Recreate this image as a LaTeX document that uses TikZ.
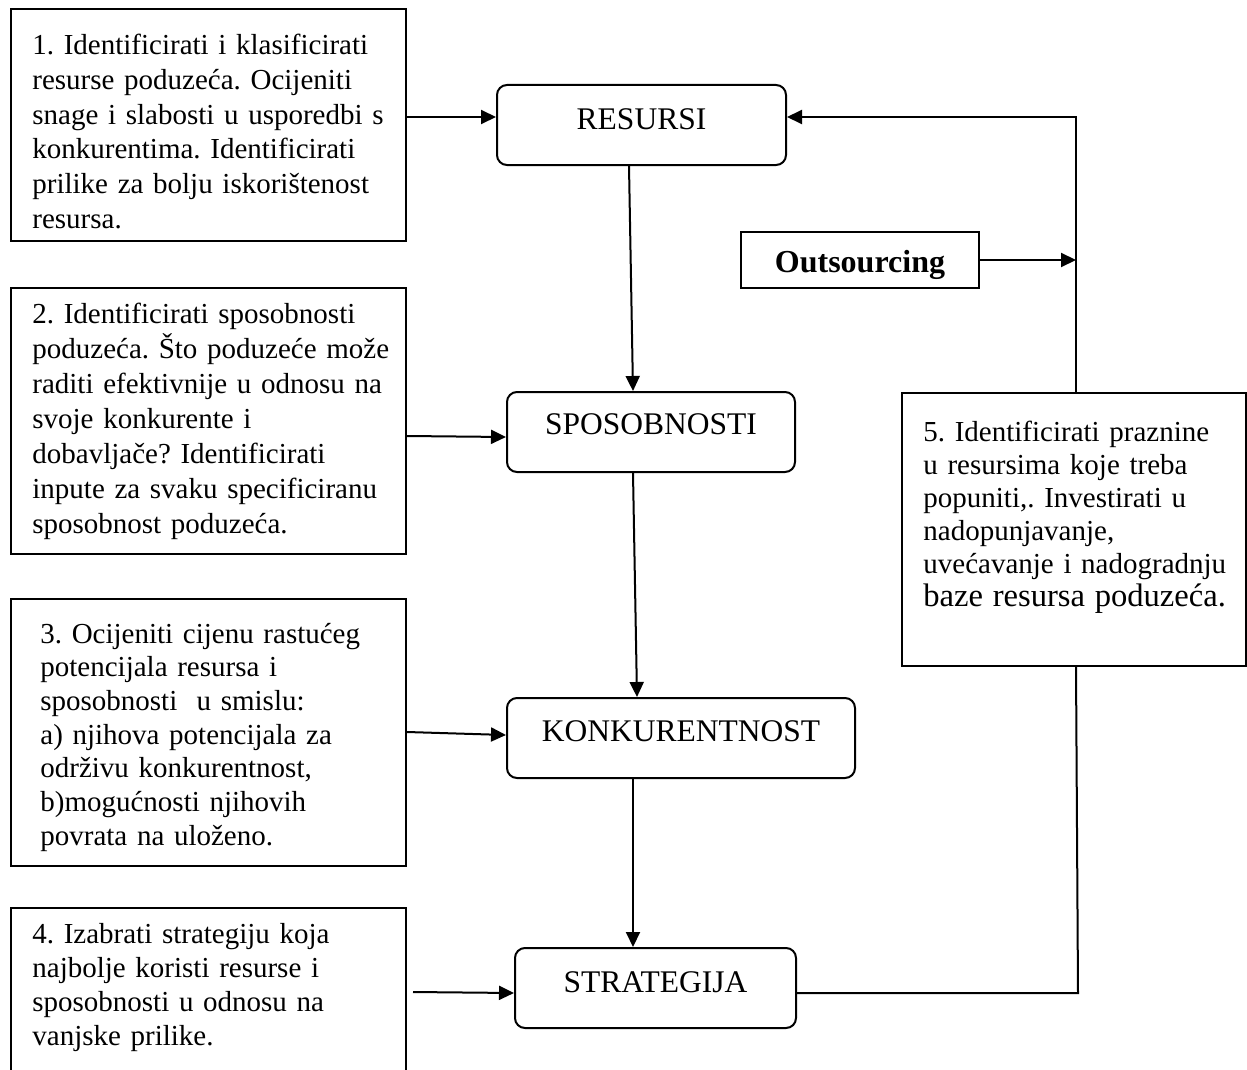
\documentclass[tikz,border=0pt]{standalone}
\usepackage{fontspec}
\setmainfont{Liberation Serif}
\usetikzlibrary{arrows.meta}
\frenchspacing
\begin{document}
\begin{tikzpicture}[x=0.5pt,y=-0.5pt,
  lbox/.style={draw, line width=1pt, inner sep=0pt, anchor=north west},
  ltext/.style={anchor=base west, inner sep=0pt, text width=200pt, align=left},
  cbox/.style={draw, line width=1pt, rounded corners=5pt, inner sep=0pt, anchor=north, font=\fontsize{15.75}{18}\selectfont},
  conn/.style={line width=1pt},
  arr/.style={conn, -{Triangle[length=7.5pt,width=7pt]}},
]
\useasboundingbox (0,0) rectangle (1247,1070);
\clip (0,0) rectangle (1247,1070);

% left boxes
\node[lbox, minimum width=197.5pt, minimum height=116pt] (b1) at (10,8) {};
\node[lbox, minimum width=197.5pt, minimum height=133pt] (b2) at (10,287) {};
\node[lbox, minimum width=197.5pt, minimum height=133.5pt] (b3) at (10,598) {};
\node[lbox, minimum width=197.5pt, minimum height=100pt] (b4) at (10,907) {};
\node[lbox, minimum width=172pt, minimum height=136.5pt] (b5) at (901,392) {};

\node[ltext, font=\fontsize{14.5}{17.3}\selectfont\frenchspacing] (t1) at (32,55) {1. Identificirati i klasificirati\\ resurse poduzeća. Ocijeniti\\ snage i slabosti u usporedbi s\\ konkurentima. Identificirati\\ prilike za bolju iskorištenost\\ resursa.};
\node[ltext, font=\fontsize{14.5}{17.5}\selectfont\frenchspacing] (t2) at (32,323) {2. Identificirati sposobnosti\\ poduzeća. Što poduzeće može\\ raditi efektivnije u odnosu na\\ svoje konkurente i\\ dobavljače? Identificirati\\ inpute za svaku specificiranu\\ sposobnost poduzeća.};
\node[ltext, font=\fontsize{14.5}{16.85}\selectfont\frenchspacing] (t3) at (40,643) {3. Ocijeniti cijenu rastućeg\\ potencijala resursa i\\ sposobnosti\ \ u smislu:\\ a) njihova potencijala za\\ održivu konkurentnost,\\ b)mogućnosti njihovih\\ povrata na uloženo.};
\node[ltext, font=\fontsize{14.5}{17.15}\selectfont\frenchspacing] (t4) at (32,943) {4. Izabrati strategiju koja\\ najbolje koristi resurse i\\ sposobnosti u odnosu na\\ vanjske prilike.};
\node[ltext, font=\fontsize{14.5}{16.5}\selectfont\frenchspacing] (t5) at (923,441) {5. Identificirati praznine\\ u resursima koje treba\\ popuniti,. Investirati u\\ nadopunjavanje,\\ uvećavanje i nadogradnju\\ {\fontsize{16.3}{16.5}\selectfont baze resursa poduzeća.}};

% centre boxes
\node[cbox, minimum width=144.5pt, text height=22.5pt, text depth=17.5pt] (r) at (641.5,84) {RESURSI};
\node[cbox, minimum width=144pt, text height=21pt, text depth=19pt] (sp) at (651,391) {SPOSOBNOSTI};
\node[cbox, minimum width=174pt, text height=21.5pt, text depth=18.5pt] (k) at (681,697) {KONKURENTNOST};
\node[cbox, minimum width=140.5pt, text height=22pt, text depth=18pt] (st) at (655.5,947) {STRATEGIJA};
\node[draw, line width=1pt, inner sep=0pt, anchor=north, minimum width=119pt, text height=20pt, text depth=8pt, font=\fontsize{16}{19}\selectfont\bfseries] (o) at (860,231) {Outsourcing};

% connectors
\draw[arr] (b1.east |- 0,117) -- (r.west |- 0,117);
\draw[arr] (b2.east |- 0,436) -- (sp.west |- 0,437);
\draw[arr] (b3.east |- 0,732) -- (k.west |- 0,735);
\coordinate (a4) at (413,992);
\draw[arr] (a4) -- (st.west |- 0,993);
\draw[arr] (r.south -| 629,0) -- (sp.north -| 633,0);
\draw[arr] (sp.south -| 633,0) -- (k.north -| 637,0);
\draw[arr] (k.south -| 633,0) -- (st.north -| 633,0);
\coordinate (fb1) at (1078,993);
\coordinate (fb2) at (1076,117);
\draw[conn] (st.east |- fb1) -- (fb1) -- (b5.south -| 1076,0);
\draw[arr] (b5.north -| fb2) -- (fb2) -- (r.east |- fb2);
\draw[arr] (o.east) -- (o.east -| fb2);
\end{tikzpicture}
\end{document}
